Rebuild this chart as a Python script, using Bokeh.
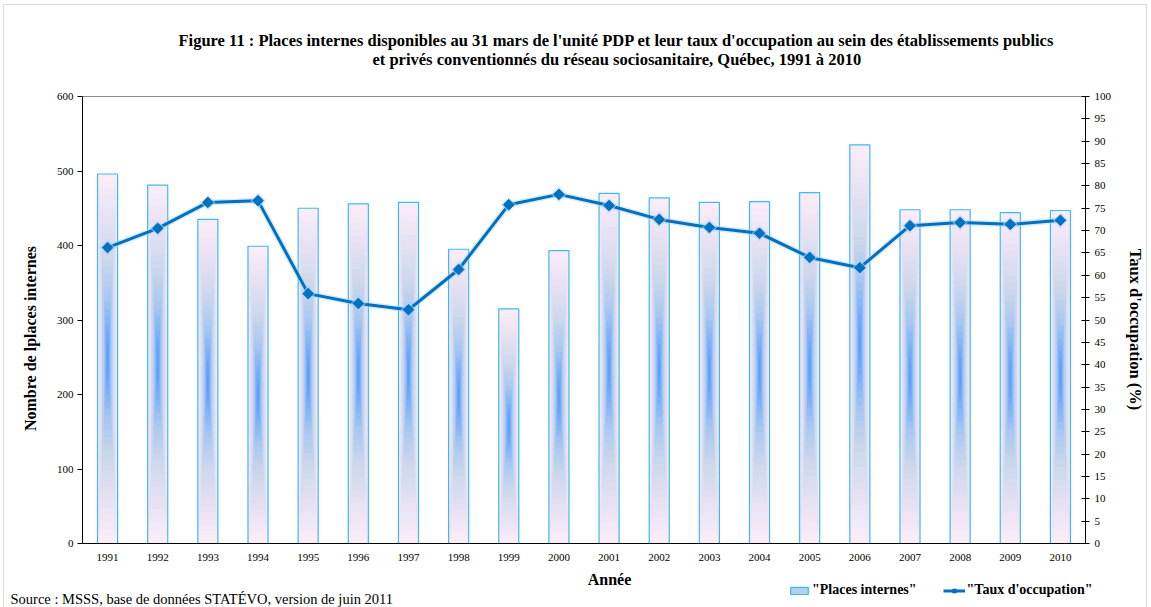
import math
from bokeh.plotting import figure
from bokeh.models import (ColumnDataSource, Range1d, LinearAxis, FixedTicker, Label,
                          Legend, LegendItem, BoxAnnotation)
from bokeh.embed import file_html
from bokeh.resources import INLINE

# ---------------- data ----------------
years = list(range(1991, 2011))
places = [496, 481, 435, 399, 450, 456, 458, 395, 315, 393,
          470, 464, 458, 459, 471, 535, 448, 448, 444, 447]
taux = [66.2, 70.5, 76.3, 76.7, 55.9, 53.7, 52.3, 61.3, 75.8, 78.1,
        75.6, 72.5, 70.7, 69.4, 64.0, 61.7, 71.1, 71.8, 71.4, 72.3]
left_ticks = [0, 100, 200, 300, 400, 500, 600]
right_ticks = list(range(0, 101, 5))

title1 = "Figure 11 : Places internes disponibles au 31 mars de l'unité PDP et leur taux d'occupation au sein des établissements publics"
title2 = "et privés conventionnés du réseau sociosanitaire, Québec, 1991 à 2010"
source_txt = "Source : MSSS, base de données STATÉVO, version de juin 2011"
left_title = "Nombre de lplaces internes"
right_title = "Taux d'occupation (%)"
x_title = "Année"

SERIF = "Liberation Serif"
BAR_W = 0.4

# ---------------- layout (pixels) ----------------
W, H = 1150, 607                      # canvas = frame
PL, PR, PT, PB = 82, 1085, 96, 543    # plot area inside the canvas
x_lo, x_hi = years[0] - 0.5, years[-1] + 0.5
y_lo, y_hi = left_ticks[0], left_ticks[-1]
r_lo, r_hi = right_ticks[0], right_ticks[-1]

def ext(lo, hi, a, b, before, after):
    k = (hi - lo) / (b - a)
    return lo - before * k, hi + after * k

xr = ext(x_lo, x_hi, PL, PR, PL, W - PR)
yr = ext(y_lo, y_hi, PT, PB, H - PB, PT)
rr = ext(r_lo, r_hi, PT, PB, H - PB, PT)

p = figure(frame_width=W, frame_height=H, min_border=0, title=None,
           x_range=Range1d(*xr), y_range=Range1d(*yr),
           output_backend="svg", toolbar_location=None, tools="",
           x_axis_type=None, y_axis_type=None)
p.extra_y_ranges = {"taux": Range1d(*rr)}
p.background_fill_color = "white"
p.border_fill_color = "white"
p.outline_line_color = None
p.xgrid.visible = False
p.ygrid.visible = False

# outer border of the chart
p.add_layout(BoxAnnotation(left=3, right=W - 4, bottom=-10, top=H - 4,
                           left_units="screen", right_units="screen",
                           bottom_units="screen", top_units="screen",
                           fill_alpha=0, line_color="#8c8c8c", line_width=1))

# ---------------- gradient bars ----------------
stops = [(1.0, (252, 236, 248)), (0.78, (230, 225, 243)), (0.55, (204, 215, 236)),
         (0.35, (168, 199, 241)), (0.15, (112, 170, 251)), (0.0, (78, 153, 255))]

def col_at(d):
    for (d1, c1), (d0, c0) in zip(stops[:-1], stops[1:]):
        if d0 <= d <= d1:
            t = (d - d0) / (d1 - d0) if d1 > d0 else 0
            r = [round(c0[i] + (c1[i] - c0[i]) * t) for i in range(3)]
            return "#%02x%02x%02x" % tuple(r)
    return "#%02x%02x%02x" % stops[-1][1]

K = 26
for k in range(K):
    d = 1 - k / K
    src = ColumnDataSource(dict(
        left=[y - BAR_W / 2 * d for y in years],
        right=[y + BAR_W / 2 * d for y in years],
        bottom=[v / 2 - v / 2 * d for v in places],
        top=[v / 2 + v / 2 * d for v in places],
    ))
    p.quad(left="left", right="right", bottom="bottom", top="top", source=src,
           fill_color=col_at(d), line_color=None)

outline_src = ColumnDataSource(dict(left=[y - BAR_W / 2 for y in years],
                                    right=[y + BAR_W / 2 for y in years],
                                    bottom=[0] * len(years), top=places))
p.quad(left="left", right="right", bottom="bottom", top="top", source=outline_src,
       fill_color=None, line_color="#38bdf0", line_width=1.2)

# zero-size quad at the first bar's corner: only used for the legend icon
leg_src = ColumnDataSource(dict(left=[years[0] - BAR_W / 2], right=[years[0] - BAR_W / 2],
                                bottom=[0], top=[0]))
bar_leg = p.quad(left="left", right="right", bottom="bottom", top="top", source=leg_src,
                 fill_color="#b3cff4", line_color="#38bdf0", line_width=1.2)

# ---------------- rate line ----------------
lsrc = ColumnDataSource(dict(x=years, y=taux))
p.line("x", "y", source=lsrc, y_range_name="taux", line_color="#a9d3ff", line_width=6, line_alpha=0.45)
ln = p.line("x", "y", source=lsrc, y_range_name="taux", line_color="#0070c0", line_width=3)
p.scatter("x", "y", source=lsrc, y_range_name="taux", marker="square", angle=math.pi / 4,
          size=11, fill_color="#a9d3ff", fill_alpha=0.6, line_color=None)
sc = p.scatter("x", "y", source=lsrc, y_range_name="taux", marker="square", angle=math.pi / 4,
               size=7.5, fill_color="#0070c0", line_color="#0070c0")

# ---------------- axes (fixed inside the canvas) ----------------
def style_labels(ax):
    ax.major_label_text_font = SERIF
    ax.major_label_text_font_size = "11px"
    ax.major_label_text_color = "black"
    ax.axis_line_color = "black"
    ax.major_tick_line_color = "black"
    ax.minor_tick_line_color = None

xa = LinearAxis(ticker=FixedTicker(ticks=years), fixed_location=y_lo, bounds=(x_lo, x_hi))
style_labels(xa)
xa.major_tick_line_color = None
xa.major_label_standoff = 4
p.add_layout(xa, "below")

top_line = LinearAxis(ticker=FixedTicker(ticks=[]), fixed_location=y_hi, bounds=(x_lo, x_hi),
                      axis_line_color="#8c8c8c", major_tick_line_color=None,
                      minor_tick_line_color=None, major_label_text_alpha=0)
p.add_layout(top_line, "above")

ya = LinearAxis(ticker=FixedTicker(ticks=left_ticks), fixed_location=x_lo, bounds=(y_lo, y_hi))
style_labels(ya)
ya.major_tick_in = 0
ya.major_tick_out = 5
ya.major_label_standoff = 4
p.add_layout(ya, "left")

ra = LinearAxis(y_range_name="taux", ticker=FixedTicker(ticks=right_ticks),
                fixed_location=x_hi, bounds=(r_lo, r_hi))
style_labels(ra)
ra.major_tick_in = 4
ra.major_tick_out = 4
ra.major_label_standoff = 5
p.add_layout(ra, "right")

# ---------------- texts ----------------
def lab(txt, x, y, size, bold=True, align="left", angle=0.0):
    p.add_layout(Label(x=x, y=H - y, x_units="screen", y_units="screen", text=txt,
                       text_font=SERIF, text_font_size=size, angle=angle,
                       text_font_style="bold" if bold else "normal",
                       text_align=align, text_baseline="middle", text_color="black"))

lab(title1, 178, 40, "16.5px")
lab(title2, 372, 59, "16.5px")
lab(x_title, 609, 579, "16px", align="center")
lab(source_txt, 10, 598, "14.5px", bold=False)
lab(left_title, 30, 338, "16px", align="center", angle=math.pi / 2)
lab(right_title, 1135, 329, "16.5px", align="center", angle=-math.pi / 2)

legend = Legend(items=[LegendItem(label='"Places internes"', renderers=[bar_leg]),
                       LegendItem(label='"Taux d\'occupation"', renderers=[ln, sc])],
                orientation="horizontal", location=(788, H - 598),
                label_text_font=SERIF, label_text_font_style="bold",
                label_text_font_size="14px", label_text_color="black",
                glyph_width=22, glyph_height=9, label_standoff=2, spacing=26,
                padding=0, margin=0, border_line_color=None, background_fill_alpha=0)
p.add_layout(legend)

open("out.html", "w").write(file_html(p, INLINE))
